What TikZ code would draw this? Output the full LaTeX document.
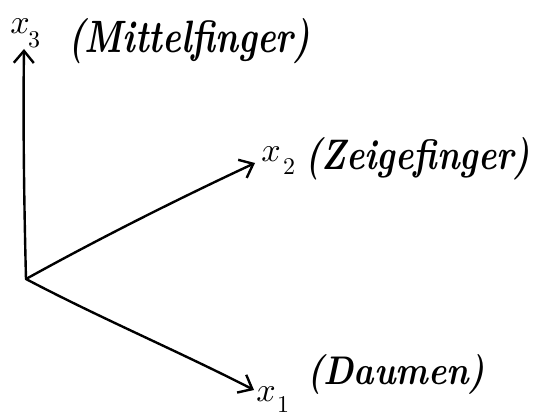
\documentclass[tikz,border=0pt]{standalone}
\usetikzlibrary{arrows.meta}
\begin{document}
\begin{tikzpicture}[x=1pt,y=-1pt,
  axis/.style={line width=2.4pt,line cap=round,line join=round,-{Straight Barb[length=12pt,width=20pt,line width=2.4pt]}},
  lbl/.style={inner sep=0pt,anchor=west},
  xv/.style={inner sep=0pt},
  sub/.style={inner sep=0pt}]
\useasboundingbox (0,0) rectangle (540,417);
\coordinate (o) at (26,279);
\coordinate (t3) at (24,49);
\coordinate (t2) at (255,163);
\coordinate (t1) at (254,390);
\draw[axis] (o) .. controls (24,200) and (23,120) .. (t3);
\draw[axis] (o) .. controls (100,238) and (180,198) .. (t2);
\draw[axis] (o) .. controls (100,318) and (180,352) .. (t1);
% labels
\node[xv] (x3) at (20,26) {\scalebox{3.4}{$x$}};
\node[sub] (s3) at (34,40) {\scalebox{2.4}{3}};
\node[lbl] (m3) at (68,41) {\resizebox{242pt}{34pt}{\bfseries\itshape (Mittelfinger)}};
\node[xv] (x2) at (271,154) {\scalebox{3.4}{$x$}};
\node[sub] (s2) at (289,167) {\scalebox{2.4}{2}};
\node[lbl] (m2) at (305,159) {\resizebox{225pt}{32pt}{\bfseries\itshape (Zeigefinger)}};
\node[xv] (x1) at (266,394) {\scalebox{3.4}{$x$}};
\node[sub] (s1) at (283,405) {\scalebox{2.4}{1}};
\node[lbl] (m1) at (307,374) {\resizebox{178pt}{30pt}{\bfseries\itshape (Daumen)}};
\end{tikzpicture}
\end{document}
